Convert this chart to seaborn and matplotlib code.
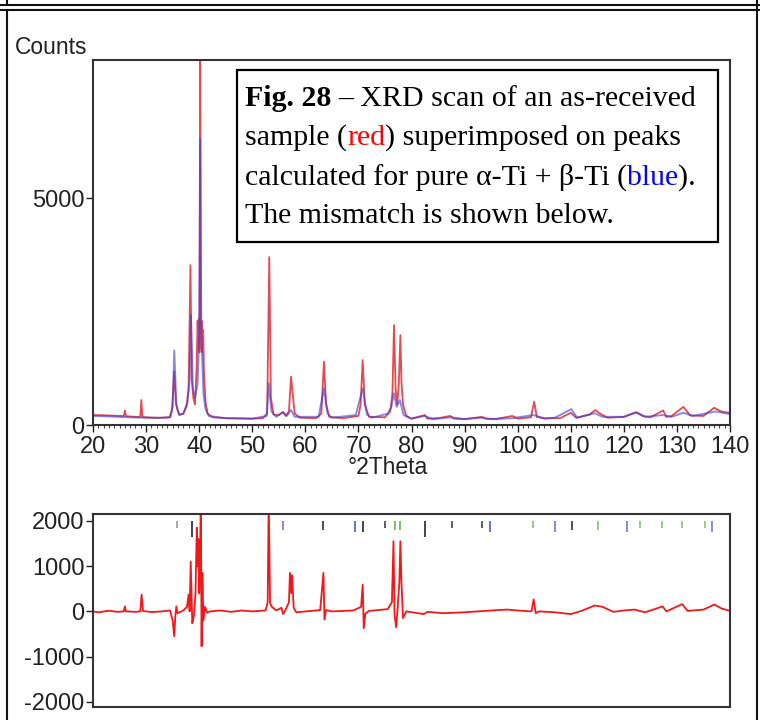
import numpy as np
import pandas as pd
import seaborn as sns
import matplotlib.pyplot as plt
from matplotlib.lines import Line2D
from matplotlib.patches import Rectangle
from matplotlib.ticker import MultipleLocator, FixedLocator

obs_2t = [20, 22, 24, 25.8, 26.0, 26.2, 28, 28.9, 29.1, 29.3, 31, 33, 34.4, 34.9, 35.3, 35.6,
          35.9, 36.3, 37, 37.6, 38.0, 38.35, 38.6, 38.9, 39.2, 39.5, 39.7, 39.85, 39.95, 40.05,
          40.2, 40.3, 40.45, 40.6, 40.75, 40.9, 41.2, 41.6, 42.5, 45, 48, 50, 52, 52.8, 53.2,
          53.5, 54, 55, 55.8, 56.3, 56.9, 57.3, 57.6, 58.0, 59, 62, 63.0, 63.5, 63.9, 64.5, 67,
          70, 70.4, 70.8, 71.2, 72, 75, 76.0, 76.4, 76.7, 77.0, 77.3, 77.6, 77.9, 78.1, 78.4,
          79, 80, 82.5, 83, 85, 87.3, 88, 90, 93.3, 94, 96, 99, 100, 102.5, 103.1, 103.6, 105,
          108, 110.0, 111, 113.5, 114.6, 115.8, 117, 120, 122.2, 123.5, 125, 127.4, 128, 129,
          131.2, 132.5, 135, 137, 138.5, 140]
obs_counts = [220, 215, 205, 200, 320, 195, 180, 180, 550, 175, 165, 160, 170, 350, 1175, 500,
              330, 220, 250, 400, 800, 3520, 1000, 600, 450, 1200, 2300, 1700, 2350, 1600,
              9000, 1700, 2300, 1600, 2100, 1150, 500, 250, 170, 150, 145, 140, 150, 250, 3700,
              600, 230, 220, 290, 200, 300, 1065, 700, 250, 160, 150, 250, 1395, 450, 180, 150,
              200, 450, 1430, 450, 180, 170, 300, 700, 2200, 800, 450, 900, 1980, 950, 450,
              200, 140, 220, 140, 150, 200, 140, 130, 180, 140, 135, 200, 140, 170, 515, 180, 150,
              150, 270, 160, 230, 330, 230, 160, 180, 280, 200, 170, 320, 180, 200,
              400, 210, 200, 380, 290, 270]

# calculated alpha-Ti + beta-Ti pattern (blue)
calc_2t = [20, 24, 28, 32, 34.6, 35.0, 35.3, 35.7, 36.2, 37, 37.8, 38.2, 38.45, 38.8, 39.2, 39.7,
           40.0, 40.2, 40.4, 40.8, 41.2, 41.8, 45, 50, 52.7, 53.1, 53.6, 54.5, 55.8, 56.5, 57.3,
           58, 62.5, 63.5, 64.2, 65, 69.5, 70.8, 71.6, 72.5, 75.5, 76.2, 76.7, 77.2, 77.8, 78.5,
           80, 82.5, 84, 87.5, 90, 93, 95, 99, 103.0, 105, 107, 110.1, 111.2, 114.5, 116, 120,
           122.5, 124, 127.3, 129, 131.2, 133, 137.3, 140]
calc_counts = [200, 185, 165, 155, 170, 400, 1640, 450, 230, 250, 500, 1000, 2420, 800, 600, 900,
               2000, 6300, 2000, 700, 350, 200, 150, 140, 200, 920, 300, 180, 280, 200, 330,
               180, 180, 810, 250, 160, 220, 810, 230, 160, 250, 400, 700, 400, 550, 220,
               140, 200, 130, 170, 130, 160, 130, 150, 220, 140, 160, 350, 160, 260, 180, 180,
               280, 180, 220, 180, 270, 200, 300, 240]

# mismatch (lower panel)
diff_2t = [20, 21, 23, 24.5, 25.8, 26.0, 26.2, 28, 28.9, 29.15, 29.4, 31, 33, 34.5, 35.0, 35.3,
           35.5, 35.7, 35.9, 37.0, 37.7, 38.0, 38.2, 38.4, 38.7, 39.0, 39.3, 39.55, 39.7, 39.85,
           40.0, 40.15, 40.3, 40.45, 40.6, 40.8, 41.1, 41.5, 42, 44, 46, 48, 50, 52.5, 52.9,
           53.1, 53.35, 53.7, 54.5, 55.5, 55.8, 56.2, 56.9, 57.1, 57.35, 57.5, 57.8, 58.3, 62.8,
           63.4, 63.6, 63.9, 65, 69, 70.5, 70.8, 71.0, 71.3, 72, 75.5, 76.3, 76.6, 76.8, 77.1,
           77.4, 77.7, 77.9, 78.1, 78.4, 79, 82.3, 83, 86, 88, 90, 95, 98, 100, 102.6, 103.0,
           103.4, 104, 107, 110, 112, 114.5, 116, 118, 120, 122, 124, 127.3, 128, 131.0, 132,
           135, 137, 138.5, 140]
diff_counts = [0, -20, 15, -10, 0, 110, 0, -10, 0, 370, 10, -15, 0, 20, -200, -550,
               -100, 110, -40, 20, 100, 370, 0, 1100, -260, -100, 400, 1850, 1000, 1600,
               400, 1000, 2500, -770, 850, -200, 100, -30, 0, 20, -10, 20, 0, 20, 200,
               2500, 180, 100, 20, 80, -60, 20, 200, 850, 400, 800, 80, -20, 30,
               850, -180, 30, 0, 20, 100, 590, -370, -50, 10, 50, 200, 1550, -80, -350,
               100, 640, 1550, 640, -150, 0, -60, -10, -40, -30, -20, 20, 40, 20, 0, 265,
               -40, 0, -20, -60, 10, 130, 100, -10, 20, 40, -20, 110, 0, 160, 10,
               40, 150, 60, 10]

# reflection markers at the top of the lower panel
mark_2t = [35.8, 38.6, 55.8, 63.3, 69.4, 70.9, 75.0, 76.9, 77.8, 82.5, 87.6, 93.3, 94.8,
           102.9, 107.0, 110.2, 115.1, 120.6, 123.0, 127.2, 130.9, 135.3, 136.6]
mark_colors = ["#9a9a9a", "#202040", "#6a7ad8", "#303040", "#4a5ac8", "#202040", "#404050",
               "#6ab04a", "#6ab04a", "#202040", "#404050", "#404050", "#4a5ac8",
               "#8ac070", "#6a7ad8", "#303040", "#8ac070", "#6a7ad8", "#8ac070", "#8ac070",
               "#8ac070", "#8ac070", "#6a7ad8"]
mark_low = [1850, 1650, 1800, 1800, 1750, 1750, 1850, 1800, 1800, 1650, 1850, 1850, 1750,
            1850, 1750, 1800, 1800, 1750, 1850, 1850, 1850, 1850, 1750]

obs = pd.DataFrame({"2theta": obs_2t, "counts": obs_counts})
calc = pd.DataFrame({"2theta": calc_2t, "counts": calc_counts})
diff = pd.DataFrame({"2theta": diff_2t, "counts": diff_counts})

sns.set_style("white")
plt.rcParams["font.family"] = ["Liberation Sans", "DejaVu Sans"]
plt.rcParams["axes.unicode_minus"] = False

fig = plt.figure(figsize=(7.6, 7.2), dpi=100)
ax = fig.add_axes([0.1224, 0.4097, 0.8382, 0.5069])
ax2 = fig.add_axes([0.1224, 0.0181, 0.8382, 0.2680])

sns.lineplot(data=obs, x="2theta", y="counts", ax=ax, color="#e02a30", lw=1.3, alpha=0.85)
sns.lineplot(data=calc, x="2theta", y="counts", ax=ax, color="#3a3ad8", lw=1.4, alpha=0.6)
ax.set_xlim(20, 140)
ax.set_ylim(0, 8040)
ax.xaxis.set_major_locator(MultipleLocator(10))
ax.xaxis.set_minor_locator(MultipleLocator(1))
ax.yaxis.set_major_locator(FixedLocator([0, 5000]))
ax.tick_params(axis="both", which="major", direction="out", length=5, width=1,
               labelsize=17, pad=1, colors="#222222", bottom=True, left=True)
ax.tick_params(axis="x", which="minor", direction="out", length=2.5, width=0.8,
               colors="#444444", bottom=True)
ax.tick_params(axis="x", pad=3)
ax.set_ylabel("")
ax.set_xlabel("°2Theta", fontsize=16.5, color="#222222")
ax.xaxis.set_label_coords(0.463, -0.085)
for s in ax.spines.values():
    s.set_linewidth(1.5)
    s.set_color("#333333")
fig.text(0.0197, 0.9347, "Counts", fontsize=16.5, color="#222222", ha="left", va="center")

# caption box
ax.add_patch(Rectangle((0.226, 0.5014), 0.755, 0.4712, transform=ax.transAxes,
                       facecolor="white", edgecolor="black", lw=1.6, zorder=5))
tk = dict(fontsize=21.5, family=["Liberation Serif", "DejaVu Serif"], va="bottom",
          ha="left", zorder=6, color="black")
x0 = 0.2386
t = ax.text(x0, 0.858, "Fig. 28", transform=ax.transAxes, fontweight="bold", **tk)
ax.annotate("– XRD scan of an as-received", xy=(1, 0), xycoords=t, xytext=(5, 0),
            textcoords="offset points", **tk)
t = ax.text(x0, 0.751, "sample (", transform=ax.transAxes, **tk)
t = ax.annotate("red", xy=(1, 0), xycoords=t, **{**tk, "color": "#ff0000"})
ax.annotate(") superimposed on peaks", xy=(1, 0), xycoords=t, **tk)
t = ax.text(x0, 0.642, "calculated for pure α-Ti + β-Ti (", transform=ax.transAxes, **tk)
t = ax.annotate("blue", xy=(1, 0), xycoords=t, **{**tk, "color": "#0000ff"})
ax.annotate(").", xy=(1, 0), xycoords=t, **tk)
ax.text(x0, 0.537, "The mismatch is shown below.", transform=ax.transAxes, **tk)

# mismatch panel
sns.lineplot(data=diff, x="2theta", y="counts", ax=ax2, color="#f01818", lw=1.3)
ax2.vlines(mark_2t, mark_low, 2000, colors=mark_colors, lw=1.2)
ax2.set_xlim(20, 140)
ax2.set_ylim(-2110, 2150)
ax2.set_xticks([])
ax2.set_yticks([-2000, -1000, 0, 1000, 2000])
ax2.tick_params(axis="y", direction="out", length=5, width=1, labelsize=17, pad=1,
                colors="#222222", left=True)
ax2.set_xlabel("")
ax2.set_ylabel("")
for s in ax2.spines.values():
    s.set_linewidth(1.5)
    s.set_color("#333333")

# page frame lines
fc = "#111111"
fig.add_artist(Line2D([0, 1], [0.9935, 0.9935], color=fc, lw=1.5))
fig.add_artist(Line2D([0, 1], [0.9868, 0.9868], color=fc, lw=1.5))
fig.add_artist(Line2D([0.0092, 0.0092], [0, 0.9868], color=fc, lw=1.5))
fig.add_artist(Line2D([0.0092, 0.0092], [0.9935, 1], color=fc, lw=1.5))
fig.add_artist(Line2D([0.9961, 0.9961], [0, 1], color=fc, lw=1.5))

fig.savefig("out.png", dpi=100)
